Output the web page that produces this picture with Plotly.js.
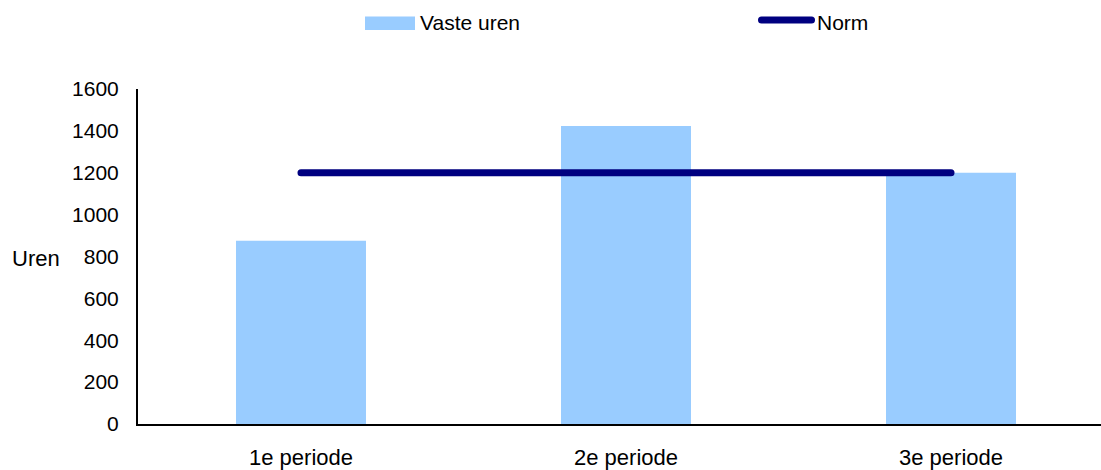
<!DOCTYPE html>
<html>
<head>
<meta charset="utf-8">
<script src="https://cdn.plot.ly/plotly-3.0.1.min.js"></script>
<style>
html,body{margin:0;padding:0;background:#fff;}
#chart{width:1101px;height:470px;}
.scatterlayer path.js-line, .shapelayer path{stroke-linecap:round;}
</style>
</head>
<body>
<div id="chart"></div>
<script>
// ---- data ----
const categories = ["1e periode", "2e periode", "3e periode"];
const vasteUren = [875, 1423, 1200];
const norm = [1200, 1200, 1200];
const seriesNames = ["Vaste uren", "Norm"];
const yTitle = "Uren";
const yTicks = [0, 200, 400, 600, 800, 1000, 1200, 1400, 1600];

// ---- layout geometry ----
const W = 1101, H = 470;
const M = {l: 138, r: 0, t: 89, b: 46};
const plotW = W - M.l - M.r, plotH = H - M.t - M.b;
const px = x => (x - M.l) / plotW;          // pixel x -> paper x
const py = y => (H - M.b - y) / plotH;      // pixel y -> paper y

const barColor = "#99CCFF";
const lineColor = "#000080";
const font = {family: "Liberation Sans, Arial, sans-serif", size: 21, color: "#000"};
const fontWide = {family: "Liberation Sans, Arial, sans-serif", size: 22, color: "#000"};

const traces = [
  {type: "bar", x: categories, y: vasteUren, name: seriesNames[0],
   marker: {color: barColor, line: {width: 0}}, width: 0.4, showlegend: false},
  {type: "scatter", mode: "lines", x: categories, y: norm, name: seriesNames[1],
   line: {color: lineColor, width: 7}, showlegend: false}
];

const layout = {
  width: W, height: H,
  margin: M,
  paper_bgcolor: "#fff", plot_bgcolor: "#fff",
  font: font,
  showlegend: false,
  xaxis: {
    type: "category", range: [-0.5015, 2.4615],
    showline: true, linecolor: "#000", linewidth: 2,
    showgrid: false, zeroline: false,
    ticks: "outside", ticklen: 13, tickcolor: "rgba(0,0,0,0)",
    tickfont: fontWide
  },
  yaxis: {
    range: [0, 1600], tickvals: yTicks,
    showline: true, linecolor: "#000", linewidth: 2,
    showgrid: false, zeroline: false,
    ticks: "outside", ticklen: 13, tickcolor: "rgba(0,0,0,0)",
    tickfont: font
  },
  shapes: [
    {type: "rect", xref: "paper", yref: "paper",
     x0: px(365), x1: px(415), y0: py(30), y1: py(16.5),
     fillcolor: barColor, line: {width: 0}},
    {type: "line", xref: "paper", yref: "paper",
     x0: px(761.5), x1: px(811.5), y0: py(20), y1: py(20),
     line: {color: lineColor, width: 7}}
  ],
  annotations: [
    {text: seriesNames[0], xref: "paper", yref: "paper", x: px(418), y: py(22),
     xanchor: "left", yanchor: "middle", showarrow: false, font: font},
    {text: seriesNames[1], xref: "paper", yref: "paper", x: px(815), y: py(22),
     xanchor: "left", yanchor: "middle", showarrow: false, font: font},
    {text: yTitle, xref: "paper", yref: "paper", x: px(10), y: py(258),
     xanchor: "left", yanchor: "middle", showarrow: false, font: fontWide}
  ]
};

Plotly.newPlot("chart", traces, layout, {displayModeBar: false, staticPlot: true});
</script>
</body>
</html>
